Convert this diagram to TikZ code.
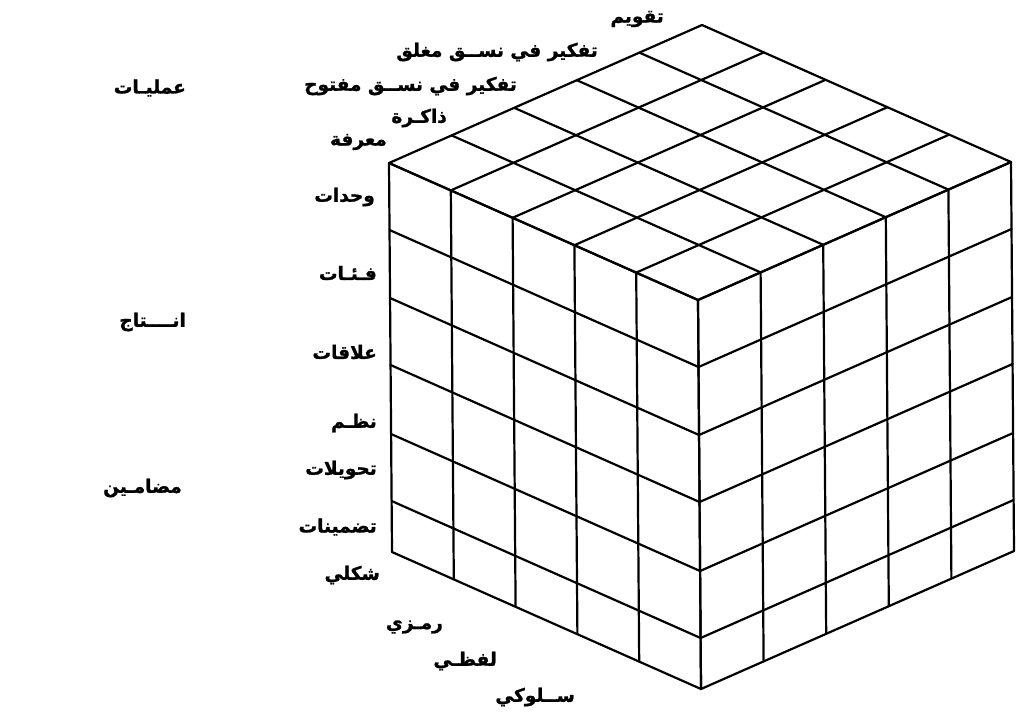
\documentclass[tikz,border=0pt]{standalone}
\usepackage{fontspec}
\usetikzlibrary{calc}
\newfontfamily\arabicfont[Script=Arabic,BoldFeatures={FakeBold=1.2}]{DejaVu Sans}
\TeXXeTstate=1
\newcommand{\ar}[1]{\arabicfont\bfseries\beginR #1\endR}
\begin{document}
\begin{tikzpicture}[x=1pt,y=-1pt,
  gridline/.style={line width=2.2pt,line join=round,line cap=round},
  lbl/.style={font=\fontsize{18.5}{22}\selectfont,inner sep=0pt,anchor=east}]
\useasboundingbox (0,0) rectangle (1019,716);
% cube corners
\coordinate (L) at (389,163);
\coordinate (F) at (698,300);
\coordinate (R) at (1011,162);
\coordinate (B) at (702,25);
\coordinate (V) at (3,389);
% top face
\foreach \i in {0,1,...,5}{
  \draw[gridline] ($(L)!\i/5!(F)$) -- ($(B)!\i/5!(R)$);
  \draw[gridline] ($(L)!\i/5!(B)$) -- ($(F)!\i/5!(R)$);
}
% left face columns and right face columns
\foreach \i in {0,1,...,5}{
  \draw[gridline] ($(L)!\i/5!(F)$) -- ++(V);
  \draw[gridline] ($(F)!\i/5!(R)$) -- ++(V);
}
% rows
\foreach \r in {0,67,135,202,271,338,389}{
  \draw[gridline] ($(L)+\r/389*(V)$) -- ($(F)+\r/389*(V)$) -- ($(R)+\r/389*(V)$);
}
% operations labels
\node[lbl] (op5) at (664,19) {\ar{تقويم}};
\node[lbl] (op4) at (598,52) {\ar{تفكير في نســق مغلق}};
\node[lbl] (op3) at (517,86) {\ar{تفكير في نســق مفتوح}};
\node[lbl] (op2) at (447,118) {\ar{ذاكـرة}};
\node[lbl] (op1) at (387,142) {\ar{معرفة}};
% products labels
\node[lbl] (p1) at (375,197) {\ar{وحدات}};
\node[lbl] (p2) at (377,273) {\ar{فـئـات}};
\node[lbl] (p3) at (377,352) {\ar{علاقات}};
\node[lbl] (p4) at (377,423) {\ar{نظـم}};
\node[lbl] (p5) at (377,470) {\ar{تحويلات}};
\node[lbl] (p6) at (377,527) {\ar{تضمينات}};
% contents labels
\node[lbl] (c1) at (380,575) {\ar{شكلي}};
\node[lbl] (c2) at (443,627) {\ar{رمـزي}};
\node[lbl] (c3) at (497,661) {\ar{لفظـي}};
\node[lbl] (c4) at (575,697) {\ar{ســلوكي}};
% axis titles
\node[lbl] (t1) at (186,88) {\ar{عمليـات}};
\node[lbl] (t2) at (186,322) {\ar{انــــتاج}};
\node[lbl] (t3) at (182,488) {\ar{مضامـين}};
\end{tikzpicture}
\end{document}
